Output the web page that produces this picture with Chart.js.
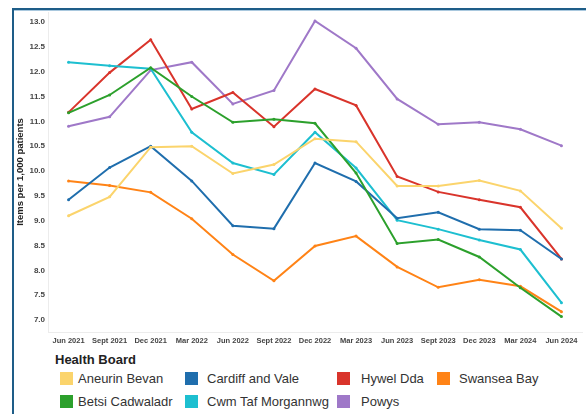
<!DOCTYPE html>
<html>
<head>
<meta charset="utf-8">
<script src="https://cdn.jsdelivr.net/npm/chart.js@4"></script>
<style>
  body { margin: 0; background: #fff; font-family: "Liberation Sans", Arial, sans-serif; }
  #page { position: relative; width: 586px; height: 414px; overflow: hidden; }
  #frame { position: absolute; left: 12px; top: 8px; right: 0; bottom: 0;
           border-left: 2px solid #1e5d88; border-top: 2px solid #1e5d88; }
  #frame:after { content: ""; position: absolute; left: 0; right: 0; top: 0; height: 1px; background: #a9c8de; }
  #wrap { position: absolute; left: 0; top: 0; width: 586px; height: 350px; }
  #legendTitle { position: absolute; left: 55px; top: 352px; font-weight: bold; font-size: 13px; color: #222; }
  .item { position: absolute; font-size: 13px; color: #333; white-space: nowrap; line-height: 14px; }
  .item span { position: absolute; left: 0; top: 0; width: 13px; height: 13px; }
  .item b { font-weight: normal; position: absolute; top: 0; }
</style>
</head>
<body>
<div id="page">
  <div id="frame"></div>
  <div id="wrap"><canvas id="chart"></canvas></div>
  <div id="legendTitle">Health Board</div>
  <div id="legend"></div>
</div>
<script>
  // Quarters on the x axis
  const quarters = ["Jun 2021", "Sept 2021", "Dec 2021", "Mar 2022", "Jun 2022", "Sept 2022", "Dec 2022",
                    "Mar 2023", "Jun 2023", "Sept 2023", "Dec 2023", "Mar 2024", "Jun 2024"];

  // Items per 1,000 patients, one array per health board
  const aneurinBevan     = [9.10, 9.48, 10.48, 10.50, 9.95, 10.13, 10.65, 10.59, 9.70, 9.70, 9.81, 9.60, 8.85];
  const betsiCadwaladr   = [11.17, 11.53, 12.08, 11.50, 10.98, 11.04, 10.96, 9.96, 8.54, 8.62, 8.27, 7.65, 7.07];
  const cardiffAndVale   = [9.42, 10.07, 10.50, 9.80, 8.90, 8.84, 10.16, 9.79, 9.05, 9.17, 8.83, 8.81, 8.23];
  const cwmTafMorgannwg  = [12.19, 12.12, 12.06, 10.78, 10.16, 9.93, 10.78, 10.06, 9.01, 8.83, 8.61, 8.42, 7.35];
  const hywelDda         = [11.18, 11.98, 12.64, 11.25, 11.58, 10.89, 11.65, 11.32, 9.89, 9.58, 9.42, 9.27, 8.23];
  const powys            = [10.90, 11.09, 12.03, 12.19, 11.35, 11.62, 13.02, 12.47, 11.45, 10.94, 10.98, 10.84, 10.51];
  const swanseaBay       = [9.80, 9.71, 9.57, 9.04, 8.32, 7.79, 8.49, 8.69, 8.07, 7.66, 7.81, 7.68, 7.17];

  const yTicks = [7.0, 7.5, 8.0, 8.5, 9.0, 9.5, 10.0, 10.5, 11.0, 11.5, 12.0, 12.5, 13.0];

  // Legend order (column by column, like the original)
  const boards = [
    { name: "Aneurin Bevan",     data: aneurinBevan,    color: "#fbd46c" },
    { name: "Betsi Cadwaladr",   data: betsiCadwaladr,  color: "#2ca02c" },
    { name: "Cardiff and Vale",  data: cardiffAndVale,  color: "#1f6ead" },
    { name: "Cwm Taf Morgannwg", data: cwmTafMorgannwg, color: "#1dbfd0" },
    { name: "Hywel Dda",         data: hywelDda,        color: "#d9342b" },
    { name: "Powys",             data: powys,           color: "#9f78c8" },
    { name: "Swansea Bay",       data: swanseaBay,      color: "#ff8316" }
  ];

  // HTML legend, 4 columns x 2 rows
  const colX = [60, 185, 337, 437];
  const rowY = [372, 395];
  const textX = [78, 207, 361, 459];
  const legend = document.getElementById("legend");
  boards.forEach((b, i) => {
    const col = Math.floor(i / 2), row = i % 2;
    const div = document.createElement("div");
    div.className = "item";
    div.style.left = colX[col] + "px";
    div.style.top = rowY[row] + "px";
    div.innerHTML = `<span style="background:${b.color}"></span><b style="left:${textX[col] - colX[col]}px">${b.name}</b>`;
    legend.appendChild(div);
  });

  const tickFont = { family: "'Liberation Sans', Arial, sans-serif", weight: "bold", size: 8 };

  new Chart(document.getElementById("chart"), {
    type: "line",
    data: {
      labels: quarters,
      datasets: boards.map(b => ({
        label: b.name,
        data: b.data,
        borderColor: b.color,
        backgroundColor: b.color,
        borderWidth: 2,
        pointRadius: 1.5,
        pointBorderWidth: 0,
        tension: 0,
        fill: false
      }))
    },
    options: {
      responsive: true,
      maintainAspectRatio: false,
      animation: false,
      layout: { padding: { left: 12, right: 2, top: 12, bottom: 0 } },
      plugins: {
        legend: { display: false },
        tooltip: { enabled: false }
      },
      scales: {
        x: {
          offset: true,
          grid: { display: false, drawTicks: false },
          border: { display: true, color: "#ececec", width: 1 },
          ticks: {
            autoSkip: false, maxRotation: 0, padding: 4,
            color: "#444", font: { family: tickFont.family, weight: "bold", size: 7.5 }
          },
          afterFit: scale => { scale.height = 18; }
        },
        y: {
          min: 6.76,
          max: 13.2,
          grid: { display: false, drawTicks: false },
          border: { display: true, color: "#ececec", width: 1 },
          afterBuildTicks: axis => { axis.ticks = yTicks.map(v => ({ value: v })); },
          ticks: {
            padding: 3, color: "#444", font: tickFont,
            callback: v => Number(v).toFixed(1)
          },
          title: {
            display: true,
            text: "Items per 1,000 patients",
            color: "#222",
            font: { family: tickFont.family, weight: "bold", size: 9.5 },
            padding: { top: 3, bottom: 0 }
          },
          afterFit: scale => { scale.width = 36; }
        }
      }
    }
  });
</script>
</body>
</html>
